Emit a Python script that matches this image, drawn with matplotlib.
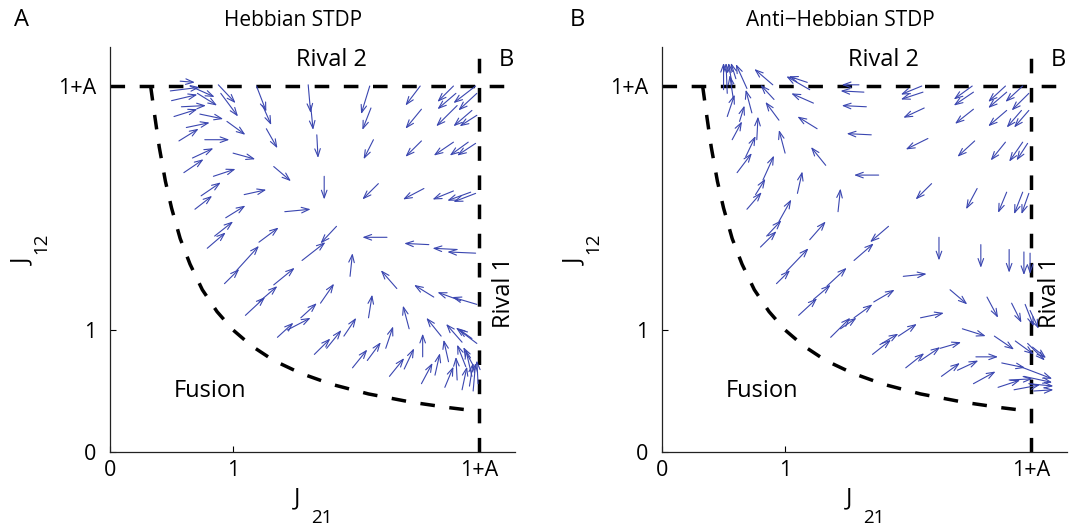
import numpy as np
import matplotlib.pyplot as plt

plt.rcParams['font.family'] = ['Open Sans', 'DejaVu Sans']

# Arrow tails (x0, y0) and heads (x1, y1) in (J21, J12) units
# --- Hebbian STDP ---
heb_x0 = [0.49, 0.50, 0.57, 0.65, 0.71, 0.58, 0.52, 0.73, 0.88, 0.90, 0.95, 1.19, 1.24, 1.27,
          0.62, 0.56, 0.77, 0.67, 1.00, 0.60, 0.84, 1.33, 0.74, 1.09, 0.69, 0.94, 1.42, 0.85,
          0.79, 1.21, 1.61, 1.63, 1.68, 1.74, 2.11, 2.12, 2.14, 2.18, 2.52, 2.53, 2.53, 2.55,
          2.79, 2.81, 2.82, 2.97, 2.98, 2.94, 2.98, 2.79, 2.91, 2.97, 2.79, 2.93, 2.97, 1.84,
          2.25, 2.59, 2.82, 2.97, 1.56, 1.95, 2.33, 2.63, 2.85, 2.98, 1.71, 1.55, 2.10, 1.90,
          1.66, 1.76, 2.43, 2.69, 2.86, 2.98, 2.94, 2.24, 1.97, 2.09, 2.54, 2.75, 2.27, 2.39,
          2.64, 2.53, 2.89, 2.72, 2.82, 2.86, 2.94, 2.95, 2.95, 2.99, 2.92, 0.93, 1.03, 1.10,
          1.21, 1.33, 1.36, 1.44]
heb_y0 = [2.96, 2.88, 3.04, 3.00, 2.94, 2.83, 2.75, 2.77, 3.01, 2.94, 2.71, 3.00, 2.84, 2.65,
          2.66, 2.55, 2.56, 2.41, 2.45, 2.29, 2.26, 2.34, 2.10, 2.11, 1.99, 1.92, 1.97, 1.77,
          1.67, 1.72, 3.01, 2.84, 2.60, 2.26, 3.00, 2.82, 2.56, 2.20, 3.00, 2.81, 2.55, 2.16,
          3.00, 2.94, 2.84, 3.00, 2.94, 2.80, 2.76, 2.54, 2.54, 2.53, 2.14, 2.13, 2.12, 1.85,
          1.76, 1.70, 1.66, 1.63, 1.57, 1.44, 1.34, 1.27, 1.24, 1.21, 1.22, 1.10, 1.10, 0.95,
          0.80, 0.85, 1.01, 0.95, 0.90, 0.89, 0.93, 0.85, 0.69, 0.75, 0.78, 0.74, 0.62, 0.68,
          0.63, 0.56, 0.70, 0.53, 0.59, 0.51, 0.62, 0.71, 0.50, 0.56, 0.54, 1.38, 1.49, 1.12,
          1.23, 1.37, 0.94, 1.00]
heb_x1 = [0.73, 0.71, 0.69, 0.85, 0.87, 0.78, 0.71, 0.92, 1.02, 1.04, 1.10, 1.27, 1.31, 1.36,
          0.81, 0.72, 0.97, 0.84, 1.18, 0.76, 1.02, 1.47, 0.90, 1.27, 0.83, 1.10, 1.63, 1.00,
          0.94, 1.37, 1.63, 1.65, 1.69, 1.74, 2.04, 2.05, 2.06, 2.05, 2.40, 2.40, 2.40, 2.38,
          2.66, 2.66, 2.65, 2.79, 2.83, 2.79, 2.84, 2.63, 2.76, 2.82, 2.62, 2.74, 2.79, 1.71,
          2.05, 2.39, 2.62, 2.74, 1.75, 1.97, 2.20, 2.47, 2.66, 2.78, 1.82, 1.68, 2.13, 2.00,
          1.79, 1.88, 2.38, 2.57, 2.73, 2.81, 2.83, 2.30, 2.09, 2.20, 2.54, 2.71, 2.39, 2.47,
          2.68, 2.62, 2.82, 2.79, 2.81, 2.90, 2.89, 2.87, 2.97, 2.98, 2.95, 1.05, 1.21, 1.26,
          1.36, 1.50, 1.49, 1.63]
heb_y1 = [2.99, 2.93, 3.03, 2.91, 2.84, 2.84, 2.81, 2.73, 2.86, 2.75, 2.60, 2.79, 2.68, 2.49,
          2.70, 2.65, 2.56, 2.49, 2.40, 2.40, 2.32, 2.22, 2.21, 2.15, 2.10, 2.02, 1.99, 1.89,
          1.80, 1.84, 2.78, 2.64, 2.41, 2.07, 2.77, 2.64, 2.40, 2.07, 2.84, 2.65, 2.42, 2.07,
          2.87, 2.81, 2.67, 2.86, 2.80, 2.67, 2.67, 2.43, 2.43, 2.43, 2.07, 2.06, 2.05, 1.71,
          1.76, 1.71, 1.67, 1.64, 1.72, 1.63, 1.49, 1.37, 1.31, 1.27, 1.38, 1.22, 1.29, 1.10,
          0.93, 1.00, 1.20, 1.10, 1.05, 1.02, 1.01, 1.03, 0.84, 0.90, 0.97, 0.92, 0.77, 0.85,
          0.81, 0.73, 0.88, 0.70, 0.78, 0.70, 0.84, 0.86, 0.73, 0.75, 0.73, 1.50, 1.69, 1.27,
          1.36, 1.51, 1.06, 1.10]

# --- Anti-Hebbian STDP ---
anti_x0 = [0.50, 0.53, 0.57, 0.60, 0.58, 0.53, 0.57, 0.63, 0.73, 0.69, 0.61, 0.68, 0.77, 0.90,
           0.91, 0.95, 1.00, 1.20, 1.23, 1.26, 1.33, 0.76, 0.82, 0.69, 1.10, 1.43, 0.85, 0.95,
           0.80, 1.20, 1.18, 1.60, 1.64, 1.66, 1.70, 1.76, 2.11, 2.12, 2.13, 2.16, 2.19, 2.52,
           2.53, 2.53, 2.54, 2.56, 1.84, 2.79, 2.80, 2.80, 2.93, 2.98, 2.92, 2.98, 2.79, 2.93,
           2.97, 2.80, 2.93, 2.98, 2.25, 2.59, 2.82, 2.94, 2.99, 1.96, 2.34, 2.64, 2.84, 2.95,
           2.99, 2.10, 2.44, 2.70, 2.87, 2.97, 3.01, 1.72, 1.45, 1.56, 1.71, 1.77, 1.92, 1.98,
           2.10, 2.26, 2.27, 2.40, 2.55, 2.53, 2.76, 2.91, 2.73, 2.82, 2.86, 2.98, 3.02, 2.94,
           1.56, 0.93, 1.01, 1.11, 1.23, 1.34, 1.37]
anti_y0 = [2.97, 2.94, 3.01, 3.06, 2.89, 2.75, 2.56, 2.71, 2.78, 2.98, 2.29, 2.42, 2.56, 3.01,
           2.89, 2.72, 2.45, 2.97, 2.86, 2.65, 2.35, 2.11, 2.23, 1.99, 2.12, 1.97, 1.77, 1.89,
           1.68, 1.74, 3.03, 3.01, 2.95, 2.83, 2.60, 2.27, 3.00, 2.95, 2.82, 2.57, 2.20, 3.00,
           2.95, 2.81, 2.55, 2.16, 1.85, 3.00, 2.95, 2.80, 3.00, 2.94, 2.80, 2.80, 2.54, 2.54,
           2.53, 2.13, 2.13, 2.12, 1.76, 1.70, 1.66, 1.64, 1.63, 1.44, 1.33, 1.27, 1.22, 1.21,
           1.16, 1.10, 1.01, 0.95, 0.91, 0.89, 0.86, 1.23, 1.01, 1.10, 0.80, 0.88, 0.95, 0.69,
           0.75, 0.85, 0.62, 0.67, 0.78, 0.56, 0.73, 0.70, 0.53, 0.59, 0.51, 0.56, 0.50, 0.62,
           1.57, 1.38, 1.48, 1.12, 1.25, 1.36, 0.94]
anti_x1 = [0.50, 0.52, 0.54, 0.56, 0.55, 0.59, 0.65, 0.67, 0.68, 0.60, 0.73, 0.76, 0.78, 0.75,
           0.80, 0.84, 0.95, 1.01, 1.05, 1.10, 1.21, 0.84, 0.91, 0.81, 1.14, 1.45, 0.97, 1.05,
           0.93, 1.33, 1.03, 1.46, 1.45, 1.46, 1.50, 1.56, 1.94, 1.94, 1.96, 1.98, 2.06, 2.37,
           2.37, 2.38, 2.40, 2.47, 1.69, 2.65, 2.65, 2.65, 2.79, 2.84, 2.80, 2.86, 2.67, 2.82,
           2.88, 2.73, 2.86, 2.92, 2.25, 2.59, 2.82, 2.94, 2.99, 2.15, 2.48, 2.73, 2.92, 3.02,
           3.06, 2.29, 2.63, 2.86, 3.02, 3.11, 3.12, 1.89, 1.58, 1.71, 1.86, 1.92, 2.07, 2.13,
           2.26, 2.43, 2.42, 2.57, 2.73, 2.71, 2.95, 3.17, 2.91, 3.01, 3.07, 3.18, 3.18, 3.17,
           1.72, 1.04, 1.19, 1.26, 1.37, 1.50, 1.53]
anti_y1 = [3.19, 3.19, 3.19, 3.19, 3.09, 2.93, 2.71, 2.84, 2.97, 3.18, 2.45, 2.59, 2.75, 3.14,
           3.01, 2.87, 2.64, 3.08, 2.94, 2.75, 2.50, 2.24, 2.43, 2.13, 2.30, 2.16, 1.90, 2.07,
           1.81, 1.89, 3.08, 3.01, 2.96, 2.84, 2.61, 2.27, 2.93, 2.89, 2.74, 2.48, 2.07, 2.89,
           2.84, 2.69, 2.42, 1.99, 1.72, 2.87, 2.82, 2.67, 2.87, 2.80, 2.66, 2.66, 2.39, 2.38,
           2.39, 1.96, 1.95, 1.95, 1.57, 1.51, 1.47, 1.45, 1.46, 1.46, 1.21, 1.10, 1.06, 1.03,
           1.01, 1.14, 0.95, 0.84, 0.80, 0.75, 0.77, 1.33, 1.10, 1.21, 0.92, 0.97, 1.05, 0.81,
           0.86, 0.90, 0.73, 0.75, 0.78, 0.66, 0.69, 0.60, 0.59, 0.60, 0.55, 0.54, 0.51, 0.57,
           1.71, 1.49, 1.67, 1.26, 1.37, 1.51, 1.10]

# Fusion boundary
fusion_x = [0.33, 0.36, 0.40, 0.45, 0.50, 0.57, 0.65, 0.75, 0.87, 1.00, 1.15, 1.33, 1.55,
            1.80, 2.10, 2.45, 2.75, 3.00]
fusion_y = [3.00, 2.78, 2.50, 2.22, 2.00, 1.75, 1.54, 1.33, 1.15, 1.00, 0.87, 0.75, 0.645,
            0.555, 0.476, 0.408, 0.364, 0.333]

tick_vals = [0, 1, 3]
tick_text = ['0', '1', '1+A']
one_plus_a = 3.0
xmax, ymax = 3.29, 3.32

arrow_col = '#3a46b0'
dash_kw = dict(color='k', lw=2.5, dashes=(4.2, 4.2), solid_capstyle='butt')

fig = plt.figure(figsize=(10.78, 5.28), dpi=100)
W, H = 1078.0, 528.0


def panel(left_px, title, title_px, letter, letter_px, x0, y0, x1, y1, rival1_x):
    ax = fig.add_axes([left_px / W, 76 / H, 405 / W, 405 / H])
    ax.set_xlim(0, xmax)
    ax.set_ylim(0, ymax)
    for s in ['top', 'right']:
        ax.spines[s].set_visible(False)
    for s in ['left', 'bottom']:
        ax.spines[s].set_linewidth(0.9)
        ax.spines[s].set_color('#222222')
    ax.set_xticks(tick_vals)
    ax.set_xticklabels(tick_text)
    ax.set_yticks(tick_vals)
    ax.set_yticklabels(tick_text)
    ax.tick_params(direction='in', length=4, width=0.8, labelsize=15.5)
    ax.tick_params(axis='y', pad=10)
    ax.tick_params(axis='x', pad=6)

    # region boundaries
    ax.plot([0, xmax], [one_plus_a, one_plus_a], **dash_kw)
    ax.plot([one_plus_a, one_plus_a], [0, ymax], **dash_kw)
    ax.plot(fusion_x, fusion_y, **dash_kw)

    for a, b, c, d in zip(x0, y0, x1, y1):
        ax.annotate('', xy=(c, d), xytext=(a, b),
                    arrowprops=dict(arrowstyle='->,head_length=0.55,head_width=0.2',
                                    color=arrow_col, lw=0.8, shrinkA=0, shrinkB=0))

    ax.text(1.80, 3.21, 'Rival 2', fontsize=17, ha='center', va='center')
    ax.text(3.22, 3.21, 'B', fontsize=17, ha='center', va='center', clip_on=False)
    ax.text(rival1_x, 1.31, 'Rival 1', fontsize=17, ha='center', va='center',
            rotation=90)
    ax.text(0.81, 0.50, 'Fusion', fontsize=17, ha='center', va='center')

    fig.text(title_px / W, 1 - 20 / H, title, fontsize=15, ha='center', va='center')
    fig.text(letter_px / W, 1 - 20 / H, letter, fontsize=17, ha='center', va='center')

    # axis labels with lowered subscripts
    off = left_px - 110
    fig.text((off + 297) / W, 1 - 498 / H, 'J', fontsize=17, ha='center', va='center')
    fig.text((off + 322) / W, 1 - 518 / H, '21', fontsize=13.5, ha='center', va='center')
    fig.text((off + 23) / W, 1 - 262 / H, 'J', fontsize=17, ha='center', va='center',
             rotation=90)
    fig.text((off + 41) / W, 1 - 243 / H, '12', fontsize=13.5, ha='center', va='center',
             rotation=90)
    return ax


panel(110, 'Hebbian STDP', 293, 'A', 22, heb_x0, heb_y0, heb_x1, heb_y1, 3.20)
panel(662, 'Anti\u2212Hebbian STDP', 840, 'B', 577, anti_x0, anti_y0, anti_x1, anti_y1, 3.15)

fig.savefig('out.png', dpi=100)
